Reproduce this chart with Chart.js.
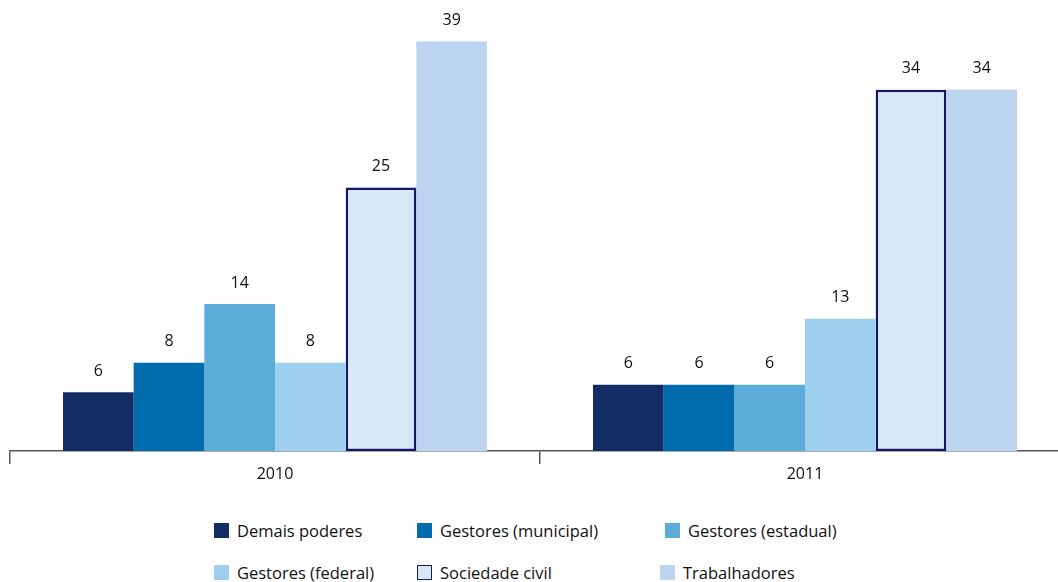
<!DOCTYPE html>
<html>
<head>
<meta charset="utf-8">
<script src="https://cdn.jsdelivr.net/npm/chart.js@4"></script>
<style>
  html, body { margin: 0; padding: 0; background: #fff; overflow: hidden; }
  #wrap { position: relative; width: 1058px; height: 582px; overflow: hidden; }
  #chart { position: absolute; left: 0; top: 0; }
  .legend { position: absolute; font-family: "Open Sans", "Noto Sans", sans-serif; font-size: 16.5px; color: #111; }
  .legend .item { position: absolute; white-space: nowrap; line-height: 20px; }
  .legend .box { position: absolute; left: 0; top: 2px; width: 15px; height: 15px; box-sizing: border-box; }
  .legend .txt { position: absolute; left: 23px; top: 0; }
</style>
</head>
<body>
<div id="wrap">
  <canvas id="chart" width="1070" height="490"></canvas>
  <div class="legend" id="legend"></div>
</div>
<script>
// categories
var years = ['2010', '2011'];

// series (labels show them rounded)
var seriesNames = ['Demais poderes', 'Gestores (municipal)', 'Gestores (estadual)',
                   'Gestores (federal)', 'Sociedade civil', 'Trabalhadores'];
var demaisPoderes = [5.6, 6.3];
var gestoresMunicipal = [8.4, 6.3];
var gestoresEstadual = [14.0, 6.3];
var gestoresFederal = [8.4, 12.6];
var sociedadeCivil = [25.1, 34.4];
var trabalhadores = [39.0, 34.4];

var fills = ['#122c66', '#006bad', '#5badd8', '#9dd0ef', '#d8e8f4', '#bcd4ef'];
var borders = [null, null, null, null, '#14166c', null];

var values = [demaisPoderes, gestoresMunicipal, gestoresEstadual, gestoresFederal, sociedadeCivil, trabalhadores];

var datasets = values.map(function(v, i) {
    return {
        label: seriesNames[i],
        data: v,
        backgroundColor: fills[i],
        borderColor: borders[i] || fills[i],
        borderWidth: borders[i] ? 2.5 : 0,
        borderSkipped: false,
        barPercentage: 1.0,
        categoryPercentage: 0.8
    };
});

// value labels above bars
var valueLabels = {
    id: 'valueLabels',
    afterDatasetsDraw: function(chart) {
        var ctx = chart.ctx;
        ctx.save();
        ctx.font = '16px "Open Sans", "Noto Sans", sans-serif';
        ctx.fillStyle = '#111';
        ctx.textAlign = 'center';
        ctx.textBaseline = 'middle';
        chart.data.datasets.forEach(function(ds, i) {
            chart.getDatasetMeta(i).data.forEach(function(bar, j) {
                ctx.fillText(Math.round(ds.data[j]), bar.x, bar.y - 21);
            });
        });
        ctx.restore();
    }
};

new Chart(document.getElementById('chart'), {
    type: 'bar',
    data: { labels: years, datasets: datasets },
    options: {
        responsive: false,
        animation: false,
        layout: { padding: { left: 10, top: 10, right: 0, bottom: 0 } },
        plugins: { legend: { display: false }, tooltip: { enabled: false } },
        scales: {
            x: {
                grid: { drawOnChartArea: false, drawTicks: true, tickLength: 13, color: '#555', lineWidth: 1.5 },
                border: { display: true, color: '#555', width: 1.5 },
                ticks: { color: '#111', font: { family: '"Open Sans", "Noto Sans", sans-serif', size: 16 }, padding: 1 },
                afterFit: function(s) { s.height = 39; }
            },
            y: {
                display: false,
                min: 0,
                max: 42
            }
        }
    },
    plugins: [valueLabels]
});

// legend in three columns, two rows
var legendPos = [[214, 521], [417, 521], [665, 521], [214, 563], [417, 563], [660, 563]];
var legend = document.getElementById('legend');
seriesNames.forEach(function(name, i) {
    var item = document.createElement('div');
    item.className = 'item';
    item.style.left = legendPos[i][0] + 'px';
    item.style.top = legendPos[i][1] + 'px';
    var box = document.createElement('span');
    box.className = 'box';
    box.style.background = fills[i];
    if (borders[i]) box.style.border = '1.5px solid ' + borders[i];
    var txt = document.createElement('span');
    txt.className = 'txt';
    txt.textContent = name;
    item.appendChild(box);
    item.appendChild(txt);
    legend.appendChild(item);
});
</script>
</body>
</html>
